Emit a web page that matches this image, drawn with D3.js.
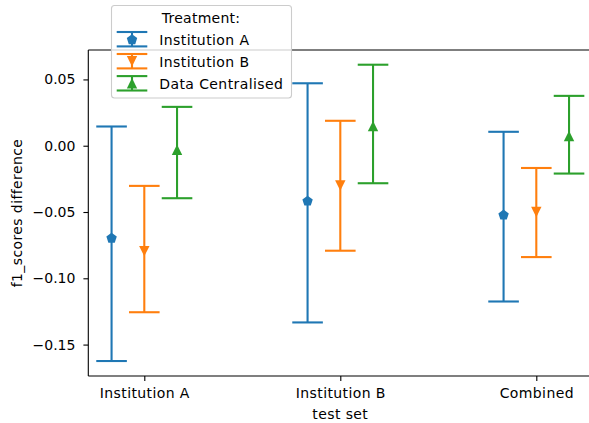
<!DOCTYPE html>
<html>
<head>
<meta charset="utf-8">
<script src="https://cdn.jsdelivr.net/npm/d3@7"></script>
<style>
  html, body { margin: 0; padding: 0; background: #fff; }
  svg { display: block; font-family: "DejaVu Sans", sans-serif; }
</style>
</head>
<body>
<svg id="chart" width="589" height="423"></svg>
<script>
// Test sets on the x axis
const testSets = ["Institution A", "Institution B", "Combined"];
// Treatments (one error bar per test set)
const treatments = ["Institution A", "Institution B", "Data Centralised"];
const colors = ["#1f77b4", "#ff7f0e", "#2ca02c"];
const markers = ["pentagon", "triangleDown", "triangleUp"];

// Mean f1 difference per treatment, one value per test set
const meanInstA = [-0.0694, -0.0414, -0.0519];
const meanInstB = [-0.0795, -0.0300, -0.0500];
const meanCentral = [-0.0030, 0.0148, 0.0073];
// Lower ends of the error bars
const lowInstA = [-0.1624, -0.1333, -0.1175];
const lowInstB = [-0.1256, -0.0792, -0.0840];
const lowCentral = [-0.0396, -0.0283, -0.0210];
// Upper ends of the error bars
const highInstA = [0.0145, 0.0471, 0.0105];
const highInstB = [-0.0303, 0.0188, -0.0168];
const highCentral = [0.0293, 0.0611, 0.0376];

const yTicks = [0.05, 0.0, -0.05, -0.10, -0.15];

const means = [meanInstA, meanInstB, meanCentral];
const lows = [lowInstA, lowInstB, lowCentral];
const highs = [highInstA, highInstB, highCentral];

const svg = d3.select("#chart");
svg.append("rect").attr("width", 589).attr("height", 423).attr("fill", "#fff");

const axLeft = 88.3, axRight = 592.3, axTop = 50, axBottom = 376;
const x = d3.scaleLinear().domain([-0.2857, testSets.length - 1 + 0.2857]).range([axLeft, axRight]);
const y = d3.scaleLinear().domain([-0.1737, 0.0722]).range([axBottom, axTop]);
const dodge = 0.167;
const capHalf = 15.3;
const fontSize = 14;
const wordSpacing = 0.4;

function markerPath(kind, r) {
  if (kind === "pentagon") {
    const R = r * 1.05;
    const pts = d3.range(5).map(k => {
      const a = -Math.PI / 2 + k * 2 * Math.PI / 5;
      return [R * Math.cos(a), R * Math.sin(a) + R * 0.1];
    });
    return "M" + pts.map(p => p.join(",")).join("L") + "Z";
  }
  if (kind === "triangleDown") return `M0,${r}L${-r},${-r}L${r},${-r}Z`;
  return `M0,${-r}L${-r},${r}L${r},${r}Z`;
}

const plot = svg.append("g");

treatments.forEach((t, j) => {
  const g = plot.append("g").attr("stroke", colors[j]).attr("fill", colors[j]);
  testSets.forEach((s, i) => {
    const cx = x(i + (j - 1) * dodge);
    g.append("line").attr("x1", cx).attr("x2", cx)
      .attr("y1", y(lows[j][i])).attr("y2", y(highs[j][i]))
      .attr("stroke-width", 2.1);
    [lows[j][i], highs[j][i]].forEach(v => {
      g.append("line").attr("x1", cx - capHalf).attr("x2", cx + capHalf)
        .attr("y1", y(v)).attr("y2", y(v)).attr("stroke-width", 2.1);
    });
    g.append("path").attr("d", markerPath(markers[j], 5.2))
      .attr("transform", `translate(${cx},${y(means[j][i])})`)
      .attr("stroke", "none");
  });
});

// Axes
const yAxis = svg.append("g").attr("transform", `translate(${axLeft},0)`)
  .call(d3.axisLeft(y).tickValues(yTicks).tickSize(4.9).tickPadding(8)
    .tickFormat(d => d3.format(".2f")(d).replace("-", "\u2212")));
const xAxis = svg.append("g").attr("transform", `translate(0,${axBottom})`)
  .call(d3.axisBottom(x).tickValues(d3.range(testSets.length)).tickSize(4.9).tickPadding(7)
    .tickFormat(i => testSets[i]));
[yAxis, xAxis].forEach(a => {
  a.select(".domain").remove();
  a.selectAll(".tick line").attr("stroke", "#000").attr("stroke-width", 1.1);
  a.selectAll(".tick text").attr("font-size", fontSize).attr("fill", "#000")
    .attr("font-family", "DejaVu Sans, sans-serif");
});
xAxis.selectAll(".tick text").attr("letter-spacing", wordSpacing);

// Spines
const spines = svg.append("g").attr("stroke", "#000").attr("stroke-width", 1.1).attr("fill", "none");
spines.append("line").attr("x1", axLeft).attr("x2", axLeft).attr("y1", axTop).attr("y2", axBottom);
spines.append("line").attr("x1", axLeft).attr("x2", axRight).attr("y1", axTop).attr("y2", axTop);
spines.append("line").attr("x1", axLeft).attr("x2", axRight).attr("y1", axBottom).attr("y2", axBottom);

// Axis titles
svg.append("text").attr("x", (axLeft + axRight) / 2).attr("y", 419)
  .attr("text-anchor", "middle").attr("font-size", fontSize)
  .attr("letter-spacing", wordSpacing).text("test set");
svg.append("text").attr("transform", `translate(22,${(axTop + axBottom) / 2}) rotate(-90)`)
  .attr("text-anchor", "middle").attr("font-size", fontSize)
  .attr("letter-spacing", wordSpacing).text("f1_scores difference");

// Legend
const lg = svg.append("g");
lg.append("rect").attr("x", 111.5).attr("y", 5.5).attr("width", 180).attr("height", 92.5)
  .attr("rx", 3).attr("fill", "#fff").attr("fill-opacity", 0.8)
  .attr("stroke", "#cccccc").attr("stroke-width", 1.1);
lg.append("text").attr("x", 201).attr("y", 22.7).attr("text-anchor", "middle")
  .attr("font-size", fontSize).attr("letter-spacing", 0.25).text("Treatment:");
const rowY = [39.2, 61.2, 83.3];
treatments.forEach((t, j) => {
  const cy = rowY[j], hx = 132;
  const h = lg.append("g").attr("stroke", colors[j]).attr("fill", colors[j]);
  h.append("line").attr("x1", hx).attr("x2", hx).attr("y1", cy - 7.2).attr("y2", cy + 7.2).attr("stroke-width", 2.1);
  [cy - 7.2, cy + 7.2].forEach(v => h.append("line")
    .attr("x1", hx - 15.3).attr("x2", hx + 15.3).attr("y1", v).attr("y2", v).attr("stroke-width", 2.1));
  h.append("path").attr("d", markerPath(markers[j], 5.2))
    .attr("transform", `translate(${hx},${cy})`).attr("stroke", "none");
  lg.append("text").attr("x", 159.3).attr("y", cy + 6.1).attr("font-size", fontSize)
    .attr("letter-spacing", wordSpacing).attr("fill", "#000").text(t);
});
</script>
</body>
</html>
